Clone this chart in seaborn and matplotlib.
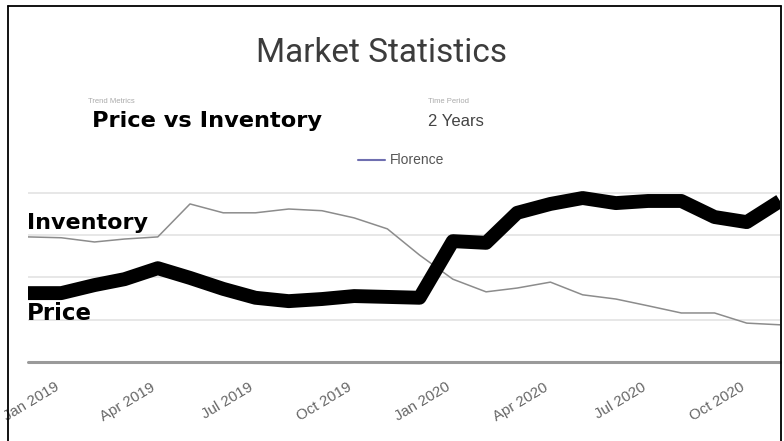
import numpy as np
import pandas as pd
import matplotlib
matplotlib.use('Agg')
import matplotlib.pyplot as plt
import matplotlib.dates as mdates
from matplotlib.lines import Line2D
import seaborn as sns

# -----------------------------------------------------------
# Data (index scale; gridlines every 100)
# -----------------------------------------------------------
months = pd.date_range('2018-12-01', periods=24, freq='MS')
price = [163, 163, 182, 196, 222, 199, 173, 152, 144, 149, 156, 154,
         152, 286, 282, 353, 374, 388, 376, 381, 381, 343, 331, 381]
inventory = [296, 294, 284, 291, 296, 374, 353, 353, 362, 358, 341, 315,
             253, 196, 166, 175, 189, 159, 149, 133, 116, 116, 92, 88]
tick_months = pd.date_range('2019-01-01', '2020-10-01', freq='QS')
grid_levels = [100, 200, 300, 400]

df = pd.DataFrame({'Month': months, 'Price': price, 'Inventory': inventory})

# -----------------------------------------------------------
# Figure
# -----------------------------------------------------------
sns.set_style('white')
plt.rcParams['font.family'] = ['Liberation Sans', 'DejaVu Sans']

W, H = 784, 441
fig = plt.figure(figsize=(W / 100, H / 100), dpi=100)
fig.patch.set_facecolor('white')

x0, x1 = 28, 780
y_base, y_top = 362, 184.5
ax = fig.add_axes([x0 / W, 1 - y_base / H, (x1 - x0) / W, (y_base - y_top) / H])

for g in grid_levels:
    ax.axhline(g, color='#e3e3e3', lw=1.2, zorder=0)
ax.axhline(0, color='#9a9a9a', lw=2.2, zorder=1, clip_on=False)

sns.lineplot(data=df, x='Month', y='Inventory', ax=ax, color='#8c8c8c', lw=1.1, zorder=2)
sns.lineplot(data=df, x='Month', y='Price', ax=ax, color='black', lw=10, zorder=3,
             solid_joinstyle='round', solid_capstyle='butt')

ax.set_xlim(months[0], months[-1])
ax.set_ylim(0, 420)
ax.set_yticks([])
ax.set_xticks(tick_months)
ax.xaxis.set_major_formatter(mdates.DateFormatter('%b %Y'))
ax.tick_params(axis='x', length=0, pad=13, labelsize=10.8, labelcolor='#666666')
for lab in ax.get_xticklabels():
    lab.set_rotation(31)
    lab.set_ha('right')
ax.set_xlabel('')
ax.set_ylabel('')
for s in ax.spines.values():
    s.set_visible(False)
ax.patch.set_alpha(0)

# -----------------------------------------------------------
# Texts
# -----------------------------------------------------------
def ftext(x, y, s, **kw):
    fig.text(x / W, 1 - y / H, s, va='baseline', **kw)

ftext(381, 62, 'Market Statistics', ha='center', fontsize=24, color='#3c3c3c',
      family=['Roboto', 'DejaVu Sans'])
ftext(88, 103, 'Trend Metrics', fontsize=5.5, color='#aaaaaa')
ftext(428, 103, 'Time Period', fontsize=5.5, color='#aaaaaa')
ftext(428, 126, '2 Years', fontsize=12, color='#444444')
ftext(92, 127, 'Price vs Inventory', fontsize=16.2, fontweight='bold', color='black',
      family=['DejaVu Sans'])
ftext(27, 229, 'Inventory', fontsize=16, fontweight='bold', color='black',
      family=['DejaVu Sans'])
ftext(27, 320, 'Price', fontsize=16.5, fontweight='bold', color='black',
      family=['DejaVu Sans'])

# legend
fig.add_artist(Line2D([358 / W, 385 / W], [1 - 160 / H, 1 - 160 / H],
                      color='#6f6fb0', lw=1.5, transform=fig.transFigure))
ftext(390, 164, 'Florence', fontsize=10, color='#555555')

# screenshot frame
for xs, ys in [([7.5, 7.5], [5.5, 441]), ([780.5, 780.5], [5.5, 441]), ([7.5, 780.5], [5.5, 5.5])]:
    fig.add_artist(Line2D([v / W for v in xs], [1 - v / H for v in ys],
                          color='black', lw=1.3, transform=fig.transFigure))

fig.savefig('out.png', dpi=100)
